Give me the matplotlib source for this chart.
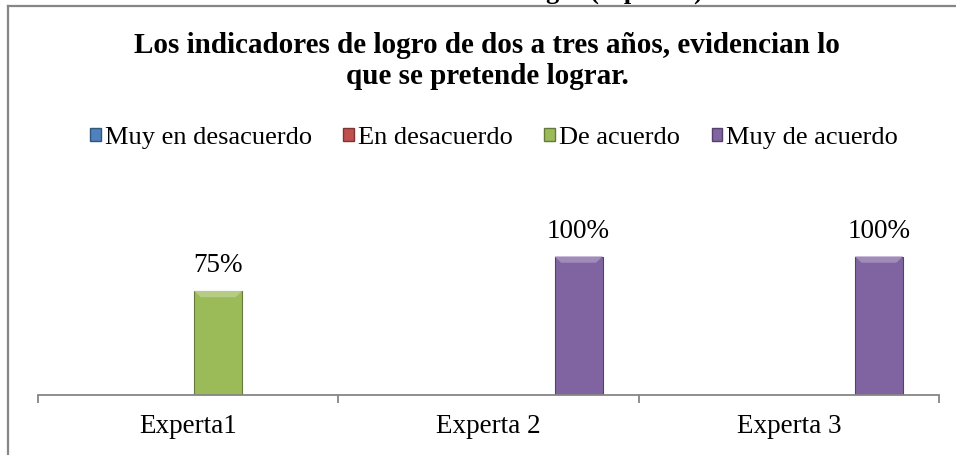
import matplotlib
matplotlib.use("Agg")
import matplotlib.pyplot as plt
import numpy as np
from matplotlib.patches import Patch, Polygon
from matplotlib.lines import Line2D
from matplotlib.colors import to_rgb

categories = ["Experta1", "Experta 2", "Experta 3"]
series_names = ["Muy en desacuerdo", "En desacuerdo", "De acuerdo", "Muy de acuerdo"]
muy_en_desacuerdo = [0.0, 0.0, 0.0]
en_desacuerdo = [0.0, 0.0, 0.0]
de_acuerdo = [0.75, 0.0, 0.0]
muy_de_acuerdo = [0.0, 1.0, 1.0]
colors = ["#4F81BD", "#C0504D", "#9BBB59", "#8064A2"]

title = "Los indicadores de logro de dos a tres años, evidencian lo\nque se pretende lograr."

plt.rcParams["font.family"] = ["Liberation Serif", "DejaVu Serif"]

W, H = 956, 455
fig = plt.figure(figsize=(W / 100, H / 100), dpi=100)

def shade(c, f):
    r, g, b = to_rgb(c)
    if f > 0:
        return (r + (1 - r) * f, g + (1 - g) * f, b + (1 - b) * f)
    return (r * (1 + f), g * (1 + f), b * (1 + f))

# frame of the chart (right and bottom edges fall outside the picture)
frame_col = "#868686"
fig.add_artist(Line2D([7.5 / W, 7.5 / W], [0, 1 - 5.5 / H], transform=fig.transFigure,
                      color=frame_col, lw=1.6))
fig.add_artist(Line2D([7.5 / W, 1.0], [1 - 5.5 / H, 1 - 5.5 / H], transform=fig.transFigure,
                      color=frame_col, lw=1.6))

# caption above the chart, mostly cut off by the top edge (as in the source)
fig.text(703 / W, 1 + 1.5 / H, "Indicadores de logro (expertos)", ha="right", va="baseline",
         fontsize=19, fontweight="bold")

fig.text(487 / W, 1 - 61 / H, title, ha="center", va="center", fontsize=21,
         fontweight="bold", linespacing=1.22, multialignment="center")

ymax = 1.2
ax = fig.add_axes([38 / W, (H - 394.5) / H, 901 / W, ymax * 138 / H])

x = np.arange(len(categories))
all_series = [muy_en_desacuerdo, en_desacuerdo, de_acuerdo, muy_de_acuerdo]
offsets = [-0.3, -0.1, 0.1, 0.3]
width = 0.16

for vals, off, col in zip(all_series, offsets, colors):
    bars = ax.bar(x + off, vals, width=width, color=col, edgecolor=shade(col, -0.35),
                  linewidth=0.8, zorder=2)
    for b, v in zip(bars, vals):
        if v <= 0:
            continue
        bx, bw, top = b.get_x(), b.get_width(), b.get_height()
        dx, dy = 0.022, 0.045
        # light bevel on the top edge
        ax.add_patch(Polygon([(bx, top), (bx + bw, top), (bx + bw - dx, top - dy), (bx + dx, top - dy)],
                             closed=True, facecolor=shade(col, 0.25), edgecolor="none", zorder=3))
        ax.annotate(f"{v:.0%}", (bx + bw / 2, top), xytext=(0, 18), textcoords="offset points",
                    ha="center", va="center", fontsize=19.5)

ax.set_xlim(-0.5, len(categories) - 0.5)
ax.set_ylim(0, ymax)
for s in ["top", "right", "left"]:
    ax.spines[s].set_visible(False)
ax.spines["bottom"].set_color(frame_col)
ax.spines["bottom"].set_linewidth(1.3)
ax.set_yticks([])
ax.set_xticks(x)
ax.set_xticklabels(categories, fontsize=19.5)
ax.tick_params(axis="x", which="major", length=0, pad=14)
ax.set_xticks(np.arange(len(categories) + 1) - 0.5, minor=True)
ax.tick_params(axis="x", which="minor", length=6, width=1.3, color=frame_col, direction="out")

handles = [Patch(facecolor=c, edgecolor=shade(c, -0.35), label=n) for c, n in zip(colors, series_names)]
fig.legend(handles=handles, loc="center", bbox_to_anchor=(494 / W, 1 - 138 / H), ncol=4,
           frameon=False, fontsize=19, handlelength=0.4, handleheight=0.4, handletextpad=0.15,
           columnspacing=1.2, borderaxespad=0, borderpad=0)

fig.savefig("out.png", dpi=100)
